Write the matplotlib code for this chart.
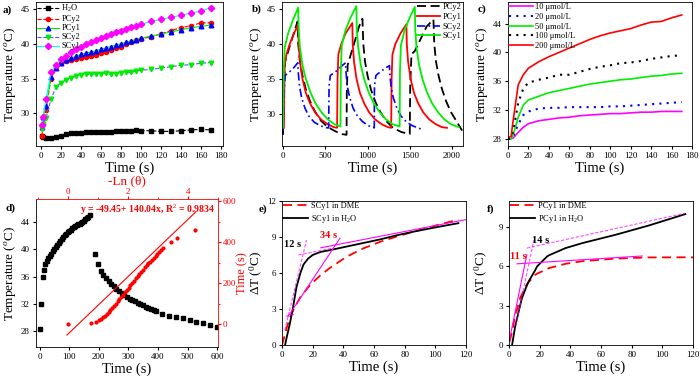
import matplotlib
matplotlib.use("Agg")
import matplotlib.pyplot as plt

plt.rcParams.update({
    "font.family": "Liberation Serif",
    "mathtext.fontset": "custom",
    "mathtext.rm": "Liberation Serif",
    "mathtext.it": "Liberation Serif:italic",
    "mathtext.bf": "Liberation Serif:bold",
    "font.size": 6.5,
    "xtick.direction": "out",
    "ytick.direction": "out",
    "xtick.major.size": 2.5,
    "ytick.major.size": 2.5,
    "xtick.major.pad": 2,
    "ytick.major.pad": 2,
    "xtick.labelsize": 6.5,
    "ytick.labelsize": 6.5,
    "axes.linewidth": 0.6,
})

RED, GREEN, BLUE, MAG, CYAN = "#ff0000", "#00ee00", "#0000ff", "#ff00ff", "#00ffff"

# ---- a) heating curves ----
a_t = [1, 2, 5, 10, 15, 20, 25, 30, 35, 40, 45, 50, 55, 60, 65, 70, 75, 80, 85, 90,
       95, 100, 110, 120, 130, 140, 150, 160, 170]
a_h2o = [26.7, 26.6, 26.4, 26.4, 26.6, 26.8, 27.0, 27.1, 27.1, 27.1, 27.3, 27.3, 27.3, 27.3,
         27.3, 27.3, 27.4, 27.4, 27.4, 27.4, 27.6, 27.5, 27.5, 27.4, 27.4, 27.5, 27.6, 27.7, 27.6]
a_pcy2 = [26.8, 28.5, 30.5, 35.0, 36.8, 37.2, 37.5, 37.7, 37.8, 38.0, 38.1, 38.2, 38.4, 38.6,
          38.8, 39.1, 39.4, 39.6, 39.9, 40.2, 40.5, 40.7, 41.0, 41.4, 41.9, 42.3, 42.6, 43.0, 43.0]
a_pcy1 = [28.0, 29.5, 31.0, 35.2, 36.5, 37.2, 37.6, 37.9, 38.2, 38.5, 38.7, 38.8, 39.0, 39.2,
          39.4, 39.6, 39.8, 40.0, 40.2, 40.4, 40.6, 40.8, 41.1, 41.4, 41.7, 42.0, 42.3, 42.5, 42.7]
a_scy2 = [27.8, 28.5, 29.3, 32.0, 33.8, 34.4, 34.8, 35.1, 35.3, 35.5, 35.6, 35.6, 35.7, 35.7,
          35.8, 35.6, 35.7, 35.8, 35.9, 35.9, 36.1, 36.2, 36.3, 36.5, 36.7, 36.9, 37.0, 37.2, 37.3]
a_scy1 = [28.3, 29.5, 32.0, 35.9, 37.0, 37.8, 38.3, 38.8, 39.2, 39.6, 39.9, 40.2, 40.5, 40.8,
          41.1, 41.4, 41.7, 41.9, 42.1, 42.4, 42.6, 42.8, 43.2, 43.5, 43.8, 44.1, 44.4, 44.7, 45.2]

# ---- b) on/off cycles ----
b_pcy2_t = [0, 10, 25, 50, 100, 140, 172, 180, 200, 230, 270, 320, 380, 450, 530, 620, 700, 752,
            755, 765, 790, 840, 900, 940, 950, 970, 1000, 1040, 1090, 1150, 1220, 1300, 1400, 1500,
            1505, 1520, 1560, 1620, 1700, 1780, 1790, 1810, 1840, 1880, 1930, 1990, 2050, 2100, 2120]
b_pcy2_T = [27.0, 33.0, 37.5, 38.5, 40.5, 42.0, 43.2, 40.0, 37.5, 35.5, 33.5, 31.8, 30.3, 29.0, 28.1, 27.5, 27.1, 27.0,
            33.0, 37.0, 38.0, 40.0, 42.5, 43.6, 40.0, 37.5, 35.5, 33.5, 31.8, 30.3, 29.0, 28.0, 27.4, 27.1,
            34.0, 38.5, 39.0, 40.5, 42.5, 43.5, 40.0, 37.5, 35.5, 33.6, 31.8, 30.2, 29.0, 28.0, 27.6]
b_pcy1_t = [10, 20, 40, 80, 130, 180, 185, 200, 230, 270, 320, 380, 450, 530, 600, 640,
            645, 655, 690, 740, 820, 825, 840, 870, 910, 960, 1020, 1090, 1170, 1240, 1280,
            1285, 1295, 1330, 1390, 1460, 1465, 1480, 1510, 1550, 1600, 1660, 1730, 1810, 1880, 1940]
b_pcy1_T = [28.0, 37.0, 38.5, 40.0, 41.5, 42.8, 40.0, 37.5, 35.0, 33.0, 31.5, 30.2, 29.2, 28.5, 28.1, 28.0,
            35.0, 38.5, 40.0, 41.5, 43.0, 40.0, 37.5, 35.0, 33.0, 31.5, 30.2, 29.2, 28.5, 28.1, 28.0,
            35.0, 38.5, 40.0, 41.5, 42.8, 40.0, 37.5, 35.0, 33.0, 31.5, 30.2, 29.2, 28.5, 28.1, 28.0]
b_scy2_t = [0, 10, 25, 60, 120, 175, 180, 195, 220, 260, 310, 370, 440, 520, 540,
            545, 560, 620, 690, 740, 745, 760, 790, 830, 880, 940, 1010, 1080,
            1082, 1100, 1150, 1220, 1260, 1265, 1280, 1305, 1345, 1395, 1455, 1530, 1640]
b_scy2_T = [27.5, 33.0, 35.5, 35.8, 36.5, 37.3, 36.0, 34.0, 32.3, 30.8, 29.6, 28.8, 28.3, 28.0, 28.0,
            34.0, 35.5, 36.0, 36.8, 37.3, 36.0, 34.0, 32.3, 30.8, 29.7, 28.9, 28.3, 28.0,
            34.0, 35.5, 36.0, 36.6, 36.9, 35.5, 33.8, 32.3, 30.9, 29.7, 28.9, 28.3, 27.8]
b_scy1_t = [0, 8, 20, 60, 120, 180, 185, 200, 230, 270, 320, 380, 450, 530, 610, 680,
            684, 695, 740, 800, 868, 873, 890, 920, 960, 1010, 1070, 1140, 1220, 1300, 1380,
            1384, 1395, 1440, 1500, 1560, 1565, 1580, 1610, 1650, 1700, 1760, 1830, 1910, 1990, 2080]
b_scy1_T = [28.0, 36.0, 39.5, 41.5, 43.5, 45.2, 42.0, 39.5, 37.0, 35.0, 33.2, 31.6, 30.3, 29.2, 28.5, 28.2,
            36.0, 39.8, 42.0, 43.8, 45.4, 42.0, 39.5, 37.0, 35.0, 33.2, 31.6, 30.3, 29.2, 28.5, 28.2,
            36.0, 39.8, 42.0, 43.8, 45.3, 42.0, 39.5, 37.0, 35.0, 33.2, 31.6, 30.3, 29.2, 28.5, 28.1]

# ---- c) concentration ----
c_t = [0, 3, 5, 10, 15, 20, 30, 40, 50, 60, 70, 80, 90, 100, 110, 120, 130, 140, 150, 160, 170]
c_10 = [28.0, 28.0, 28.1, 28.9, 29.6, 30.1, 30.5, 30.7, 30.9, 31.0, 31.2, 31.3, 31.4, 31.5, 31.5,
        31.6, 31.7, 31.7, 31.8, 31.8, 31.8]
c_20 = [28.0, 28.0, 28.3, 30.0, 31.3, 31.8, 32.2, 32.3, 32.3, 32.4, 32.4, 32.4, 32.4, 32.5, 32.5,
        32.6, 32.7, 32.8, 32.9, 33.0, 33.1]
c_50 = [28.0, 28.0, 28.5, 31.0, 32.7, 33.4, 33.9, 34.4, 34.7, 35.0, 35.3, 35.6, 35.8, 36.0, 36.2,
        36.3, 36.5, 36.7, 36.8, 37.0, 37.1]
c_100 = [28.0, 28.1, 29.0, 33.0, 35.0, 35.8, 36.2, 36.5, 36.9, 36.9, 37.3, 37.7, 38.0, 38.2, 38.5,
         38.6, 38.8, 39.1, 39.3, 39.5, 39.6]
c_200 = [28.2, 28.3, 30.5, 35.5, 36.9, 37.8, 38.7, 39.4, 40.0, 40.6, 41.2, 41.8, 42.3, 42.7, 43.0,
         43.3, 43.8, 44.2, 44.3, 44.8, 45.2]

# ---- d) heating / cooling + -ln(theta) ----
d_heat_t = [0, 5, 10, 15, 20, 25, 30, 35, 40, 45, 50, 55, 60, 65, 70, 75, 80, 85, 90, 95, 100,
            105, 110, 115, 120, 125, 130, 135, 140, 145, 150, 155, 160, 165, 170]
d_heat_T = [28.3, 32.0, 35.9, 37.0, 37.8, 38.3, 38.7, 39.0, 39.4, 39.8, 40.1, 40.4, 40.7, 41.0,
            41.3, 41.6, 41.8, 42.1, 42.3, 42.5, 42.7, 42.9, 43.1, 43.3, 43.5, 43.6, 43.7, 43.8,
            43.9, 44.0, 44.2, 44.4, 44.6, 44.8, 45.0]
d_cool_t = [188, 197, 206, 215, 224, 233, 242, 251, 260, 269, 278, 287, 296, 305, 314, 323, 332,
            341, 350, 359, 368, 377, 386, 395, 415, 438, 461, 484, 507, 530, 552, 575, 598]
d_cool_T = [39.4, 37.9, 36.9, 36.3, 35.8, 35.4, 35.0, 34.6, 34.2, 33.9, 33.6, 33.3, 33.0, 32.8,
            32.6, 32.4, 32.2, 32.0, 31.8, 31.6, 31.4, 31.3, 31.1, 31.0, 30.6, 30.3, 30.1, 29.9,
            29.6, 29.4, 29.2, 28.9, 28.7]
d_lnq = [0.0, 0.78, 0.95, 1.05, 1.12, 1.18, 1.24, 1.30, 1.36, 1.42, 1.48, 1.54, 1.60, 1.66, 1.72,
         1.78, 1.84, 1.90, 1.96, 2.02, 2.08, 2.14, 2.20, 2.26, 2.32, 2.38, 2.44, 2.50, 2.56, 2.62,
         2.68, 2.74, 2.80, 2.86, 2.92, 2.98, 3.04, 3.10, 3.17, 3.42, 3.65, 4.22]
d_time = [0, 5, 10, 18, 25, 33, 41, 50, 59, 69, 79, 89, 100, 110, 121, 132, 143, 155, 166, 177,
          189, 200, 212, 223, 234, 245, 256, 266, 276, 286, 296, 305, 314, 322, 331, 340, 350,
          360, 372, 400, 418, 460]
fit_a, fit_b = -49.45, 140.04
fit_x = [-0.03, 4.25]

# ---- e) SCy1 ----
e_t = [0, 2, 3, 5, 7, 9.4, 12, 14, 17, 20, 25, 31, 42, 53, 64, 75, 86, 100, 115]
e_h2o = [None, 0.0, 0.6, 1.7, 3.0, 4.8, 6.0, 6.7, 7.2, 7.5, 7.75, 7.9, 8.2, 8.5, 8.8, 9.15, 9.45, 9.8, 10.15]
e_dme = [0.0, 0.9, 1.4, 2.2, 2.8, 3.4, 4.0, 4.3, 4.8, 5.2, 5.8, 6.4, 7.35, 8.05, 8.6, 9.05, 9.45, 9.95, 10.45]
e_tan_solid = [([3.9, 37.8], [2.36, 8.9]), ([25.3, 120], [8.1, 10.45])]
e_tan_dash = [([1.8, 16.0], [1.25, 8.75]), ([10.7, 32.6], [7.5, 8.06]), ([2.5, 9.0], [2.4, 2.6])]

# ---- f) PCy1 ----
f_t = [0, 0.3, 2, 4, 5.2, 7.2, 8.5, 11.5, 12.8, 17, 18.3, 24.8, 26, 36.8, 47.7, 69.5, 91.2, 115, 120]
f_h2o = [None, None, 0.0, 1.4, 2.0, 3.0, 3.6, 4.5, 4.85, 5.7, 6.0, 6.76, 6.85, 7.4, 7.78, 8.42, 9.13, 10.0, None]
f_dme = [None, 0.25, 1.0, 2.3, 2.7, 3.57, 3.9, 4.6, 4.8, 5.35, 5.45, 5.8, 5.87, 6.2, 6.4, 6.6, 6.69, 6.7, 6.69]
f_tan_solid = [([0.3, 11.6], [0.38, 6.9]), ([5.2, 86.9], [6.2, 6.8])]
f_tan_dash = [([4.5, 16.2], [1.5, 8.03]), ([11.6, 115], [7.4, 10.07])]

fig = plt.figure(figsize=(7, 3.78), dpi=100)


def ax_at(l, t, r, b):
    return fig.add_axes([l / 700, 1 - b / 378, (r - l) / 700, (b - t) / 378])


def clean(x, y):
    pts = [(a, b) for a, b in zip(x, y) if b is not None]
    return [p[0] for p in pts], [p[1] for p in pts]


tempC = "Temperature ($^{o}$C)"
dT = r"$\Delta$T ($^{0}$C)"
XL = dict(fontsize=10.5, labelpad=1)
YL = dict(fontsize=9.5, labelpad=2)
LEG = dict(frameon=False, borderaxespad=0.05, handletextpad=0.3, borderpad=0.1)

# ── a ──────────────────────────────────────────────
ax = ax_at(36, 2, 223, 146)
ax.plot(a_t, a_h2o, ls="--", color="black", lw=0.8, marker="s", ms=2.8, mfc="black", label="H$_2$O")
ax.plot(a_t, a_pcy2, ls="--", color=RED, lw=0.8, marker="o", ms=3, mfc=RED, mec=RED, label="PCy2")
ax.plot(a_t, a_pcy1, ls="-", color=GREEN, lw=0.8, marker="^", ms=3.3, mfc=BLUE, mec=BLUE, label="PCy1")
ax.plot(a_t, a_scy2, ls="--", color="#5555ff", lw=0.8, marker="v", ms=3.3, mfc=GREEN, mec=GREEN, label="SCy2")
ax.plot(a_t, a_scy1, ls="-", color=CYAN, lw=0.8, marker="D", ms=3.2, mfc=MAG, mec=MAG, label="SCy1")
ax.set_xlim(-5, 182)
ax.set_ylim(25.3, 46)
ax.set_xticks(range(0, 181, 20))
ax.set_yticks([30, 35, 40, 45])
ax.legend(loc="upper left", fontsize=6, handlelength=2.6, labelspacing=0.12, **LEG)
ax.set_xlabel("Time (s)", **XL)
ax.set_ylabel(tempC, **YL)
fig.text(3 / 700, 1 - 10 / 378, "a)", fontsize=8, fontweight="bold", va="center")

# ── b ──────────────────────────────────────────────
ax = ax_at(282, 2, 463, 146)
ax.plot(b_pcy2_t, b_pcy2_T, color="black", lw=1.3, dashes=(5, 2.5), label="PCy2")
ax.plot(b_pcy1_t, b_pcy1_T, color=RED, lw=1.3, label="PCy1")
ax.plot(b_scy2_t, b_scy2_T, color=BLUE, lw=1.2, dashes=(5, 2, 1, 2), label="SCy2")
ax.plot(b_scy1_t, b_scy1_T, color=GREEN, lw=1.3, label="SCy1")
ax.set_xlim(-12, 2130)
ax.set_ylim(25.4, 46)
ax.set_xticks([0, 500, 1000, 1500, 2000])
ax.set_yticks([30, 35, 40, 45])
ax.legend(loc="upper right", fontsize=6, handlelength=2.8, labelspacing=0.2, **LEG)
ax.set_xlabel("Time (s)", **XL)
ax.set_ylabel(tempC, **YL)
fig.text(252 / 700, 1 - 9 / 378, "b)", fontsize=8, fontweight="bold", va="center")

# ── c ──────────────────────────────────────────────
ax = ax_at(508, 2, 692, 146)
ax.plot(c_t, c_10, color=MAG, lw=1.2, label="10 μmol/L")
ax.plot(c_t, c_20, color=BLUE, lw=1.5, ls=(0, (1, 2.5)), label="20 μmol/L")
ax.plot(c_t, c_50, color=GREEN, lw=1.2, label="50 μmol/L")
ax.plot(c_t, c_100, color="black", lw=1.5, ls=(0, (1, 2.5)), label="100 μmol/L")
ax.plot(c_t, c_200, color=RED, lw=1.2, label="200 μmol/L")
ax.set_xlim(0, 180)
ax.set_ylim(27, 47)
ax.set_xticks(range(0, 181, 20))
ax.set_yticks([28, 32, 36, 40, 44])
ax.legend(loc="upper left", fontsize=6, handlelength=2.8, labelspacing=0.2, **LEG)
ax.set_xlabel("Time (s)", **XL)
ax.set_ylabel(tempC, **YL)
fig.text(478 / 700, 1 - 9 / 378, "c)", fontsize=8, fontweight="bold", va="center")

# ── d ──────────────────────────────────────────────
ax = ax_at(36, 199, 218, 347)
ax.plot(d_heat_t, d_heat_T, "s", color="black", ms=2.6)
ax.plot(d_cool_t, d_cool_T, "s", color="black", ms=2.6)
ax.set_xlim(-12, 603)
ax.set_ylim(25.7, 47.4)
ax.set_xticks(range(0, 601, 100))
ax.set_yticks([28, 32, 36, 40, 44])
ax.set_xlabel("Time (s)", **XL)
ax.set_ylabel(tempC, **YL)
ax.spines["top"].set_color(RED)
ax.spines["right"].set_color(RED)
fig.text(6 / 700, 1 - 208 / 378, "d)", fontsize=8, fontweight="bold", va="center")

ax2 = fig.add_axes(ax.get_position(), frameon=False)
ax2.plot(d_lnq, d_time, "o", color=RED, ms=2.0)
ax2.plot(fit_x, [fit_a + fit_b * v for v in fit_x], color=RED, lw=0.8)
ax2.set_xlim(-1.06, 5.0)
ax2.set_ylim(-112, 610)
ax2.xaxis.tick_top()
ax2.xaxis.set_label_position("top")
ax2.yaxis.tick_right()
ax2.yaxis.set_label_position("right")
ax2.set_xticks([0, 2, 4])
ax2.set_xticks([-1, 1, 3, 5], minor=True)
ax2.set_yticks([0, 200, 400, 600])
ax2.set_yticks([100, 300, 500], minor=True)
ax2.tick_params(colors=RED, which="both", labelsize=6.5, pad=1)
ax2.tick_params(axis="x", which="major", length=2, pad=0.5)
ax2.tick_params(which="minor", length=1.5)
ax2.set_xlabel("-Ln (θ)", color=RED, fontsize=9.5, labelpad=2)
ax2.set_ylabel("Time (s)", color=RED, fontsize=9, labelpad=0)
ax2.text(0.985, 0.925, "y = -49.45+ 140.04x, R$^2$ = 0.9834", transform=ax2.transAxes,
         color=RED, fontsize=7, fontweight="bold", ha="right", va="center")

# ── e ──────────────────────────────────────────────
ax = ax_at(282, 201, 466, 345)
x, y = clean(e_t, e_dme)
ax.plot(x, y, color=RED, lw=1.3, dashes=(5, 3), label="SCy1 in DME")
x, y = clean(e_t, e_h2o)
ax.plot(x, y, color="black", lw=1.3, label="SCy1 in H$_2$O")
for xs, ys in e_tan_solid:
    ax.plot(xs, ys, color=MAG, lw=0.8)
for xs, ys in e_tan_dash:
    ax.plot(xs, ys, color=MAG, lw=0.8, ls=(0, (3, 1.5)), alpha=0.7)
ax.text(1, 8.4, "12 s", fontsize=7.5, fontweight="bold", color="black", va="center")
ax.text(25, 9.1, "34 s", fontsize=7.5, fontweight="bold", color=RED, va="center")
ax.set_xlim(0, 120)
ax.set_ylim(0, 12)
ax.set_xticks(range(0, 121, 20))
ax.set_yticks([0, 3, 6, 9, 12])
ax.legend(loc="upper left", fontsize=6, handlelength=3, labelspacing=0.3, **LEG)
ax.set_xlabel("Time (s)", **XL)
ax.set_ylabel(dT, fontsize=9.5, labelpad=1)
fig.text(259 / 700, 1 - 209 / 378, "e)", fontsize=8, fontweight="bold", va="center")

# ── f ──────────────────────────────────────────────
ax = ax_at(509, 201, 693, 345)
x, y = clean(f_t, f_dme)
ax.plot(x, y, color=RED, lw=1.3, dashes=(5, 3), label="PCy1 in DME")
x, y = clean(f_t, f_h2o)
ax.plot(x, y, color="black", lw=1.3, label="PCy1 in H$_2$O")
for xs, ys in f_tan_solid:
    ax.plot(xs, ys, color=MAG, lw=0.8)
for xs, ys in f_tan_dash:
    ax.plot(xs, ys, color=MAG, lw=0.8, ls=(0, (3, 1.5)), alpha=0.7)
ax.text(20.4, 8.0, "14 s", fontsize=7.5, fontweight="bold", color="black", ha="center", va="center")
ax.text(5.9, 6.75, "11 s", fontsize=7.5, fontweight="bold", color=RED, ha="center", va="center")
ax.set_xlim(0, 120)
ax.set_ylim(0, 11)
ax.set_xticks(range(0, 121, 20))
ax.set_yticks([0, 3, 6, 9])
ax.legend(loc="upper left", fontsize=6, handlelength=3, labelspacing=0.3, **LEG)
ax.set_xlabel("Time (s)", **XL)
ax.set_ylabel(dT, fontsize=9.5, labelpad=6)
fig.text(487 / 700, 1 - 209 / 378, "f)", fontsize=8, fontweight="bold", va="center")

fig.savefig("out.png", dpi=100, facecolor="white")
